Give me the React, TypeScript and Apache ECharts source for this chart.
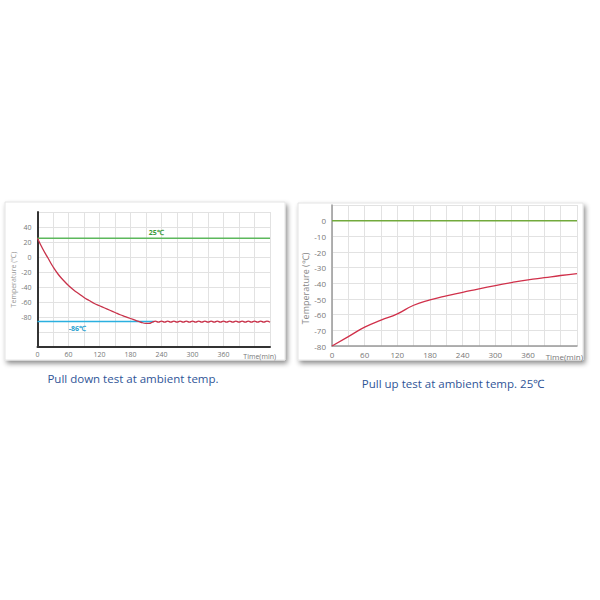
import React, { useEffect, useRef } from "react";
import * as echarts from "echarts";

// ---------- data ----------
const timeTicks = [0, 60, 120, 180, 240, 300, 360];
const timeAxisName = "Time(min)";
const yAxisName = "Temperature (℃)";

// Left chart: pull down
const leftTempTicks = [-80, -60, -40, -20, 0, 20, 40];
const leftAmbient = 25;
const leftAmbientLabel = "25℃";
const leftSetpoint = -86;
const leftSetpointLabel = "-86℃";
const leftSetpointEnd = 225;
const leftTimes = [
  0, 10, 20, 30, 40, 50, 60, 70, 80, 90, 100, 110, 120, 130, 140, 150, 160, 170, 180, 190, 200, 210, 216, 222,
  228, 234, 240, 246, 252, 258, 264, 270, 276, 282, 288, 294, 300, 306, 312, 318, 324, 330, 336, 342, 348, 354,
  360, 366, 372, 378, 384, 390, 396, 402, 408, 414, 420, 426, 432, 438, 444, 450,
];
const leftTemps = [
  25, 11, -1, -13, -23, -31, -38, -44, -49, -54, -58, -62, -65, -68, -71, -74, -77, -79.5, -82, -84.5, -87, -88.4, -88.4, -87,
  -85.4, -86.9, -85.4, -86.9, -85.4, -86.9, -85.4, -86.9, -85.4, -86.9, -85.4, -86.9, -85.4, -86.9, -85.4, -86.9, -85.4, -86.9, -85.4, -86.9, -85.4, -86.9,
  -85.4, -86.9, -85.4, -86.9, -85.4, -86.9, -85.4, -86.9, -85.4, -86.9, -85.4, -86.9, -85.4, -86.9, -85.4, -86.9,
];

// Right chart: pull up
const rightTempTicks = [-80, -70, -60, -50, -40, -30, -20, -10, 0];
const rightAmbientLine = 0;
const rightTimes = [0, 30, 60, 90, 120, 150, 180, 210, 240, 270, 300, 330, 360, 390, 420, 450];
const rightTemps = [-80, -74, -68, -63.5, -59.5, -54, -50.6, -48, -45.8, -43.5, -41.4, -39.5, -37.8, -36.4, -35, -33.8];

const captionLeft = "Pull down test at ambient temp.";
const captionRight = "Pull up test at ambient temp. 25℃";

// ---------- component ----------
export default function App() {
  const ref = useRef<HTMLDivElement>(null);

  useEffect(() => {
    if (!ref.current) return;
    const chart = echarts.init(ref.current, null, { renderer: "svg" });

    const pair = (ts: number[], vs: number[]) => ts.map((t, i) => [t, vs[i]]);
    const font = "Open Sans";

    const xAxisBase = (gridIndex: number, fontSize: number, lineColor: string, lineWidth: number, nameRight: number) => ({
      type: "value",
      gridIndex,
      min: 0,
      max: 450,
      interval: 30,
      name: timeAxisName,
      nameLocation: "end",
      nameGap: nameRight,
      nameTextStyle: {
        align: "right",
        verticalAlign: "top",
        padding: [6, 0, 0, 0],
        color: "#777",
        fontSize,
        fontFamily: font,
      },
      axisLine: { show: true, onZero: false, lineStyle: { color: lineColor, width: lineWidth } },
      axisTick: { show: false },
      axisLabel: {
        color: "#777",
        fontSize,
        fontFamily: font,
        margin: 4,
        formatter: (v: number) => (timeTicks.includes(v) ? String(v) : ""),
      },
      splitLine: { show: true, lineStyle: { color: "#e2e2e2", width: 1 } },
    });

    const option = {
      animation: false,
      backgroundColor: "#ffffff",
      graphic: [
        {
          type: "rect",
          z: -10,
          shape: { x: 5, y: 202, width: 280, height: 158 },
          style: {
            fill: "#ffffff",
            stroke: "#e4e4e4",
            lineWidth: 1,
            shadowBlur: 5,
            shadowOffsetX: 2,
            shadowOffsetY: 3,
            shadowColor: "rgba(0,0,0,0.45)",
          },
        },
        {
          type: "rect",
          z: -10,
          shape: { x: 298, y: 203, width: 285, height: 157 },
          style: {
            fill: "#ffffff",
            stroke: "#e4e4e4",
            lineWidth: 1,
            shadowBlur: 5,
            shadowOffsetX: 2,
            shadowOffsetY: 3,
            shadowColor: "rgba(0,0,0,0.45)",
          },
        },
        {
          type: "text",
          x: 133,
          y: 378,
          style: {
            text: captionLeft,
            fill: "#2f5597",
            fontSize: 11.5,
            fontFamily: font,
            align: "center",
            verticalAlign: "middle",
          },
        },
        {
          type: "text",
          x: 453,
          y: 383,
          style: {
            text: captionRight,
            fill: "#2f5597",
            fontSize: 11.5,
            fontFamily: font,
            align: "center",
            verticalAlign: "middle",
          },
        },
      ],
      grid: [
        { left: 37.5, right: 330, top: 212, bottom: 253 },
        { left: 332, right: 23, top: 205, bottom: 254 },
      ],
      xAxis: [xAxisBase(0, 7, "#333", 2, 6), xAxisBase(1, 8, "#999", 1.5, 6)],
      yAxis: [
        {
          type: "value",
          gridIndex: 0,
          min: -120,
          max: 60,
          interval: 20,
          name: yAxisName,
          nameLocation: "middle",
          nameGap: 18,
          nameTextStyle: { color: "#999", fontSize: 7, fontFamily: font },
          axisLine: { show: true, onZero: false, lineStyle: { color: "#333", width: 2 } },
          axisTick: { show: false },
          axisLabel: {
            color: "#777",
            fontSize: 7,
            fontFamily: font,
            margin: 6,
            formatter: (v: number) => (leftTempTicks.includes(v) ? String(v) : ""),
          },
          splitLine: { show: true, lineStyle: { color: "#e2e2e2", width: 1 } },
        },
        {
          type: "value",
          gridIndex: 1,
          min: -80,
          max: 10,
          interval: 10,
          name: yAxisName,
          nameLocation: "middle",
          nameGap: 21,
          nameTextStyle: { color: "#888", fontSize: 9, fontFamily: font, padding: [0, 26, 0, 0] },
          axisLine: { show: true, onZero: false, lineStyle: { color: "#999", width: 1.5 } },
          axisTick: { show: false },
          axisLabel: {
            color: "#777",
            fontSize: 8,
            fontFamily: font,
            margin: 6,
            formatter: (v: number) => (rightTempTicks.includes(v) ? String(v) : ""),
          },
          splitLine: { show: true, lineStyle: { color: "#e2e2e2", width: 1 } },
        },
      ],
      series: [
        {
          type: "line",
          xAxisIndex: 0,
          yAxisIndex: 0,
          symbolSize: 0,
          showSymbol: true,
          lineStyle: { color: "#5cb85c", width: 1.5 },
          itemStyle: { color: "#5cb85c" },
          data: [
            [0, leftAmbient],
            {
              value: [230, leftAmbient],
              label: {
                show: true,
                position: "top",
                distance: 2,
                formatter: leftAmbientLabel,
                color: "#3a9a3a",
                fontWeight: "bold",
                fontSize: 7,
                fontFamily: font,
              },
            },
            [450, leftAmbient],
          ],
        },
        {
          type: "line",
          xAxisIndex: 0,
          yAxisIndex: 0,
          symbolSize: 0,
          showSymbol: true,
          lineStyle: { color: "#2bb0e0", width: 1.5 },
          itemStyle: { color: "#2bb0e0" },
          data: [
            [0, leftSetpoint],
            {
              value: [77, leftSetpoint],
              label: {
                show: true,
                position: "bottom",
                distance: 3,
                formatter: leftSetpointLabel,
                color: "#1fa0d0",
                fontWeight: "bold",
                fontSize: 7,
                fontFamily: font,
              },
            },
            [leftSetpointEnd, leftSetpoint],
          ],
        },
        {
          type: "line",
          xAxisIndex: 0,
          yAxisIndex: 0,
          showSymbol: false,
          smooth: true,
          lineStyle: { color: "#c8324a", width: 1.3 },
          itemStyle: { color: "#c8324a" },
          data: pair(leftTimes, leftTemps),
        },
        {
          type: "line",
          xAxisIndex: 1,
          yAxisIndex: 1,
          showSymbol: false,
          lineStyle: { color: "#72aa3c", width: 1.5 },
          itemStyle: { color: "#72aa3c" },
          data: [
            [0, rightAmbientLine],
            [450, rightAmbientLine],
          ],
        },
        {
          type: "line",
          xAxisIndex: 1,
          yAxisIndex: 1,
          showSymbol: false,
          smooth: true,
          lineStyle: { color: "#d0304a", width: 1.3 },
          itemStyle: { color: "#d0304a" },
          data: pair(rightTimes, rightTemps),
        },
      ],
    };

    chart.setOption(option as any);
    return () => chart.dispose();
  }, []);

  return (
    <div
      ref={ref}
      style={{ position: "fixed", left: 0, top: 0, width: 600, height: 600, background: "#fff" }}
    />
  );
}
